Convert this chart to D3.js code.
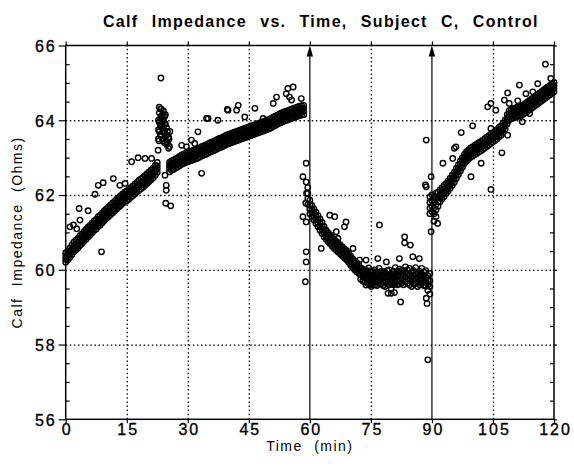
<!DOCTYPE html>
<html>
<head>
<meta charset="utf-8">
<script src="https://cdn.jsdelivr.net/npm/d3@7"></script>
<style>
  body { margin: 0; background: #fff; }
  svg { display: block; font-family: "Liberation Sans", Arial, sans-serif; }
</style>
</head>
<body>
<svg id="chart"></svg>
<script>
const WIDTH = 574
const HEIGHT = 468

const TITLE = "Calf Impedance vs. Time, Subject C, Control"
const X_LABEL = "Time (min)"
const Y_LABEL = "Calf Impedance (Ohms)"

const xTicks = [0, 15, 30, 45, 60, 75, 90, 105, 120]
const yTicks = [56, 58, 60, 62, 64, 66]
const arrowTimes = [60, 90]

// each row: [time (min), readings at that time...]
const rest1 = [
  [0, 60.2, 60.28, 60.36, 60.45], [0.5, 60.26, 60.34, 60.42, 60.5], [1, 60.33, 60.42, 60.5, 60.58],
  [1.5, 60.4, 60.49, 60.57, 60.66], [2, 60.48, 60.56, 60.65, 60.74], [2.5, 60.53, 60.62, 60.7, 60.79],
  [3, 60.58, 60.67, 60.75, 60.84], [3.5, 60.65, 60.74, 60.82, 60.91], [4, 60.7, 60.79, 60.87, 60.96],
  [4.5, 60.76, 60.85, 60.93, 61.02], [5, 60.82, 60.91, 60.99, 61.08], [5.5, 60.88, 60.97, 61.05, 61.14],
  [6, 60.93, 61.02, 61.1, 61.19], [6.5, 60.99, 61.08, 61.16, 61.25], [7, 61.05, 61.14, 61.22, 61.31],
  [7.5, 61.09, 61.18, 61.26, 61.35], [8, 61.16, 61.25, 61.33, 61.42], [8.5, 61.2, 61.29, 61.37, 61.46],
  [9, 61.26, 61.35, 61.43, 61.52], [9.5, 61.32, 61.41, 61.49, 61.58], [10, 61.37, 61.46, 61.54, 61.63],
  [10.5, 61.42, 61.51, 61.59, 61.68], [11, 61.47, 61.56, 61.64, 61.73], [11.5, 61.52, 61.61, 61.69, 61.78],
  [12, 61.57, 61.66, 61.74, 61.83], [12.5, 61.62, 61.71, 61.79, 61.88], [13, 61.67, 61.76, 61.84, 61.93],
  [13.5, 61.72, 61.81, 61.89, 61.98], [14, 61.77, 61.86, 61.94, 62.03], [14.5, 61.82, 61.91, 61.99, 62.08],
  [15, 61.85, 61.94, 62.02, 62.11], [15.5, 61.89, 61.98, 62.06, 62.15], [16, 61.94, 62.03, 62.11, 62.2],
  [16.5, 61.98, 62.07, 62.15, 62.24], [17, 62.03, 62.12, 62.2, 62.29], [17.5, 62.08, 62.17, 62.25, 62.34],
  [18, 62.13, 62.22, 62.3, 62.39], [18.5, 62.17, 62.26, 62.34, 62.43], [19, 62.21, 62.3, 62.38, 62.47],
  [19.5, 62.26, 62.35, 62.43, 62.52], [20, 62.31, 62.4, 62.48, 62.57], [20.5, 62.36, 62.45, 62.53, 62.62],
  [21, 62.41, 62.5, 62.58, 62.67], [21.5, 62.46, 62.55, 62.63, 62.72], [22, 62.53, 62.62, 62.7, 62.79],
  [22.5, 62.61, 62.7, 62.78, 62.87]
]

const spike = [
  [22.8, 63.5, 63.75, 64.0], [23, 63.95, 64.2, 64.35, 63.7], [23.3, 64.05, 64.3, 63.85, 63.6],
  [23.5, 63.9, 64.1, 64.3, 63.6], [23.8, 64.15, 63.95, 63.7, 63.5], [24, 64.0, 64.25, 63.8, 63.45],
  [24.3, 64.1, 63.9, 63.65, 63.4], [24.5, 63.9, 64.15, 63.55], [24.8, 63.8, 63.6, 63.35],
  [25, 63.7, 63.4], [25.3, 63.55, 63.25], [25.5, 63.3]
]

const rest2 = [
  [25.5, 62.62, 62.71, 62.79, 62.87], [26, 62.66, 62.75, 62.83, 62.91], [26.5, 62.68, 62.77, 62.85, 62.93],
  [27, 62.72, 62.81, 62.89, 62.97], [27.5, 62.75, 62.84, 62.92, 63.0], [28, 62.78, 62.87, 62.95, 63.03],
  [28.5, 62.82, 62.91, 62.99, 63.07], [29, 62.84, 62.93, 63.01, 63.09], [29.5, 62.87, 62.96, 63.04, 63.12],
  [30, 62.89, 62.98, 63.06, 63.14], [30.5, 62.91, 63.0, 63.08, 63.16], [31, 62.93, 63.02, 63.1, 63.18],
  [31.5, 62.95, 63.04, 63.12, 63.2], [32, 62.97, 63.06, 63.14, 63.22], [32.5, 62.99, 63.08, 63.16, 63.24],
  [33, 63.02, 63.11, 63.19, 63.27], [33.5, 63.05, 63.14, 63.22, 63.3], [34, 63.07, 63.16, 63.24, 63.32],
  [34.5, 63.09, 63.18, 63.26, 63.34], [35, 63.12, 63.21, 63.29, 63.37], [35.5, 63.15, 63.24, 63.32, 63.4],
  [36, 63.17, 63.26, 63.34, 63.42], [36.5, 63.19, 63.28, 63.36, 63.44], [37, 63.22, 63.31, 63.39, 63.47],
  [37.5, 63.25, 63.34, 63.42, 63.5], [38, 63.27, 63.36, 63.44, 63.52], [38.5, 63.29, 63.38, 63.46, 63.54],
  [39, 63.32, 63.41, 63.49, 63.57], [39.5, 63.35, 63.44, 63.52, 63.6], [40, 63.37, 63.46, 63.54, 63.62],
  [40.5, 63.39, 63.48, 63.56, 63.64], [41, 63.41, 63.5, 63.58, 63.66], [41.5, 63.43, 63.52, 63.6, 63.68],
  [42, 63.45, 63.54, 63.62, 63.7], [42.5, 63.47, 63.56, 63.64, 63.72], [43, 63.49, 63.58, 63.66, 63.74],
  [43.5, 63.51, 63.6, 63.68, 63.76], [44, 63.53, 63.62, 63.7, 63.78], [44.5, 63.55, 63.64, 63.72, 63.8],
  [45, 63.57, 63.66, 63.74, 63.82], [45.5, 63.59, 63.68, 63.76, 63.84], [46, 63.61, 63.7, 63.78, 63.86],
  [46.5, 63.63, 63.72, 63.8, 63.88], [47, 63.65, 63.74, 63.82, 63.9], [47.5, 63.67, 63.76, 63.84, 63.92],
  [48, 63.69, 63.78, 63.86, 63.94], [48.5, 63.71, 63.8, 63.88, 63.96], [49, 63.73, 63.82, 63.9, 63.98],
  [49.5, 63.75, 63.84, 63.92, 64.0], [50, 63.77, 63.86, 63.94, 64.02], [50.5, 63.8, 63.89, 63.97, 64.05],
  [51, 63.83, 63.92, 64.0, 64.08], [51.5, 63.86, 63.95, 64.03, 64.11], [52, 63.89, 63.98, 64.06, 64.14],
  [52.5, 63.92, 64.01, 64.09, 64.17], [53, 63.94, 64.03, 64.11, 64.19], [53.5, 63.97, 64.06, 64.14, 64.22],
  [54, 63.99, 64.08, 64.16, 64.24], [54.5, 64.01, 64.1, 64.18, 64.26], [55, 64.03, 64.12, 64.2, 64.28],
  [55.5, 64.05, 64.14, 64.22, 64.3], [56, 64.07, 64.16, 64.24, 64.32], [56.5, 64.09, 64.18, 64.26, 64.34],
  [57, 64.11, 64.2, 64.28, 64.36], [57.5, 64.13, 64.22, 64.3, 64.38], [58, 64.14, 64.23, 64.31, 64.39],
  [58.5, 64.15, 64.24, 64.32, 64.4]
]

const cuff = [
  [59.5, 61.75, 61.9, 62.05, 62.2], [60, 61.5, 61.62, 61.74, 61.86], [60.5, 61.42, 61.52, 61.62, 61.72],
  [61, 61.33, 61.43, 61.53, 61.63], [61.5, 61.24, 61.34, 61.44, 61.54], [62, 61.15, 61.25, 61.35, 61.45],
  [62.5, 61.06, 61.16, 61.26, 61.36], [63, 60.97, 61.07, 61.17, 61.27], [63.5, 60.88, 60.98, 61.08, 61.16],
  [64, 60.82, 60.9, 60.98, 61.06], [64.5, 60.75, 60.83, 60.91, 60.99], [65, 60.69, 60.77, 60.85, 60.93],
  [65.5, 60.63, 60.71, 60.79, 60.87], [66, 60.57, 60.65, 60.73, 60.81], [66.5, 60.52, 60.6, 60.68, 60.76],
  [67, 60.47, 60.55, 60.63, 60.71], [67.5, 60.42, 60.5, 60.58, 60.66], [68, 60.37, 60.45, 60.53, 60.61],
  [68.5, 60.32, 60.4, 60.48, 60.56], [69, 60.27, 60.35, 60.43, 60.51], [69.5, 60.2, 60.28, 60.36, 60.44],
  [70, 60.13, 60.21, 60.29, 60.37], [70.5, 60.06, 60.14, 60.22, 60.3], [71, 60.0, 60.08, 60.16, 60.24],
  [71.5, 59.95, 60.03, 60.11, 60.19], [72, 59.9, 59.98, 60.06, 60.14], [72.5, 59.75, 59.87, 59.96, 60.05],
  [73, 59.7, 59.82, 59.92, 60.02], [73.5, 59.68, 59.8, 59.9, 60.0], [74, 59.65, 59.76, 59.88, 59.98],
  [74.5, 59.62, 59.74, 59.86, 60.05], [75, 59.6, 59.72, 59.84, 59.98], [75.5, 59.62, 59.74, 59.86, 59.96],
  [76, 59.6, 59.72, 59.84, 60.0], [76.5, 59.58, 59.7, 59.82, 59.94], [77, 59.64, 59.76, 59.88, 60.04],
  [77.5, 59.62, 59.74, 59.86, 59.96], [78, 59.58, 59.7, 59.82, 59.95], [78.5, 59.55, 59.68, 59.8, 59.92],
  [79, 59.62, 59.74, 59.86, 59.98], [79.5, 59.6, 59.72, 59.84, 60.0], [80, 59.5, 59.64, 59.76, 59.88],
  [80.5, 59.6, 59.72, 59.84, 59.96], [81, 59.64, 59.76, 59.88, 60.06], [81.5, 59.6, 59.72, 59.84, 59.96],
  [82, 59.62, 59.74, 59.86, 60.02], [82.5, 59.64, 59.76, 59.88, 59.98], [83, 59.6, 59.72, 59.86, 59.98],
  [83.5, 59.68, 59.8, 59.92, 60.08], [84, 59.64, 59.76, 59.88, 60.0], [84.5, 59.6, 59.72, 59.84, 60.04],
  [85, 59.55, 59.68, 59.8, 59.92], [85.5, 59.62, 59.74, 59.86, 59.98], [86, 59.64, 59.76, 59.88, 60.06],
  [86.5, 59.55, 59.66, 59.78, 59.9], [87, 59.6, 59.72, 59.84, 59.96], [87.5, 59.64, 59.76, 59.88, 60.04],
  [88, 59.58, 59.7, 59.82, 59.94], [88.5, 59.56, 59.68, 59.8, 59.98], [89, 59.45, 59.6, 59.72, 59.84],
  [89.5, 59.35, 59.55, 59.7, 59.9]
]

const recovery = [
  [89.5, 61.5, 61.65, 61.8, 61.95], [90, 61.55, 61.7, 61.85, 62.0], [90.5, 61.5, 61.65, 61.8, 61.95],
  [91, 61.6, 61.75, 61.9, 62.05], [91.5, 61.7, 61.82, 61.94, 62.08], [92, 61.82, 61.92, 62.02, 62.14],
  [92.5, 61.9, 62.0, 62.1, 62.2], [93, 61.96, 62.06, 62.16, 62.26], [93.5, 62.04, 62.13, 62.22, 62.31],
  [94, 62.11, 62.2, 62.29, 62.38], [94.5, 62.18, 62.27, 62.36, 62.45], [95, 62.26, 62.35, 62.44, 62.53],
  [95.5, 62.34, 62.43, 62.52, 62.61], [96, 62.44, 62.53, 62.62, 62.71], [96.5, 62.54, 62.63, 62.72, 62.81],
  [97, 62.64, 62.73, 62.82, 62.91], [97.5, 62.74, 62.83, 62.92, 63.0], [98, 62.84, 62.93, 63.01, 63.09],
  [98.5, 62.91, 63.0, 63.08, 63.16], [99, 62.96, 63.05, 63.13, 63.21], [99.5, 63.01, 63.1, 63.18, 63.26],
  [100, 63.04, 63.13, 63.21, 63.29], [100.5, 63.08, 63.17, 63.25, 63.33], [101, 63.11, 63.2, 63.28, 63.36],
  [101.5, 63.15, 63.24, 63.32, 63.4], [102, 63.18, 63.27, 63.35, 63.43], [102.5, 63.22, 63.31, 63.39, 63.47],
  [103, 63.26, 63.35, 63.43, 63.51], [103.5, 63.3, 63.39, 63.47, 63.55], [104, 63.34, 63.43, 63.51, 63.59],
  [104.5, 63.38, 63.47, 63.55, 63.63], [105, 63.42, 63.51, 63.59, 63.67], [105.5, 63.46, 63.55, 63.63, 63.71],
  [106, 63.5, 63.59, 63.67, 63.75], [106.5, 63.56, 63.65, 63.73, 63.81], [107, 63.6, 63.69, 63.77, 63.85],
  [107.5, 63.68, 63.77, 63.85, 63.93], [108, 63.76, 63.85, 63.93, 64.01], [108.5, 63.9, 63.99, 64.07, 64.15],
  [109, 64.01, 64.1, 64.18, 64.26], [109.5, 64.04, 64.13, 64.21, 64.29], [110, 64.06, 64.15, 64.23, 64.31],
  [110.5, 64.08, 64.17, 64.25, 64.33], [111, 64.1, 64.19, 64.27, 64.35], [111.5, 64.12, 64.21, 64.29, 64.37],
  [112, 64.14, 64.23, 64.31, 64.39], [112.5, 64.16, 64.25, 64.33, 64.41], [113, 64.2, 64.29, 64.37, 64.45],
  [113.5, 64.24, 64.33, 64.41, 64.49], [114, 64.28, 64.37, 64.45, 64.53], [114.5, 64.32, 64.41, 64.49, 64.57],
  [115, 64.36, 64.45, 64.53, 64.61], [115.5, 64.4, 64.49, 64.57, 64.65], [116, 64.44, 64.53, 64.61, 64.69],
  [116.5, 64.48, 64.57, 64.65, 64.73], [117, 64.52, 64.61, 64.69, 64.77], [117.5, 64.56, 64.65, 64.73, 64.81],
  [118, 64.6, 64.69, 64.77, 64.85], [118.5, 64.64, 64.73, 64.81, 64.89], [119, 64.68, 64.77, 64.85, 64.93],
  [119.5, 64.72, 64.81, 64.89, 64.97], [120, 64.76, 64.85, 64.93, 65.01]
]

// stray readings away from the main trace, [time, impedance]
const strays = [
  [1.05, 61.15], [1.9, 61.2], [2.7, 61.1], [3.5, 61.33], [3.3, 61.64], [5.5, 61.58],
  [7.2, 62.02], [8.0, 62.26], [9.2, 62.33], [11.7, 62.44], [13.3, 62.26], [14.6, 62.31],
  [16.2, 62.89], [17.8, 63.0], [19.5, 62.98], [21.1, 62.98], [8.8, 60.48],
  [23.4, 65.13], [22.7, 63.2], [22.9, 63.45], [24.4, 62.53], [24.7, 62.26], [24.7, 62.13],
  [24.6, 61.78], [25.8, 61.71], [25.6, 63.7], [25.4, 63.5],
  [28.5, 63.33], [29.7, 63.29], [30.9, 63.47], [31.7, 63.38], [32.5, 63.69], [33.4, 62.58],
  [34.6, 64.05], [35.0, 64.05], [37.4, 64.0], [39.7, 64.29], [39.9, 64.27], [42.0, 64.27],
  [42.4, 64.4], [44.0, 64.09], [46.5, 64.32], [48.5, 64.05], [51.0, 64.45], [51.8, 64.62],
  [54.2, 64.71], [54.6, 64.85], [55.0, 64.62], [55.9, 64.89], [55.5, 64.54], [57.9, 64.58],
  [59.1, 62.85], [58.3, 62.49], [59.1, 62.35], [59.2, 62.05], [59.0, 61.78], [58.3, 61.42],
  [59.1, 61.28], [59.1, 60.48], [59.1, 60.21], [58.9, 59.68],
  [62.8, 60.57], [64.9, 61.46], [66.1, 61.42], [68.9, 61.28], [68.5, 61.15], [66.5, 61.02],
  [66.9, 60.84], [70.6, 60.57], [72.2, 60.26], [73.8, 60.26], [73.8, 59.59], [75.1, 59.55],
  [76.7, 60.3], [77.1, 61.2], [78.8, 60.21], [79.2, 59.37], [80.0, 59.37], [80.8, 59.39],
  [82.0, 60.3], [82.3, 59.14], [83.3, 60.88], [83.3, 60.72], [84.7, 60.66], [85.3, 60.35],
  [86.9, 60.3], [88.6, 59.24], [88.8, 59.1], [89.0, 57.59],
  [88.6, 63.47], [88.4, 62.27], [88.6, 62.22], [89.8, 62.49], [91.0, 61.42], [91.4, 61.24],
  [89.8, 61.02], [90.5, 61.3], [92.7, 62.85], [95.1, 62.98], [95.5, 63.25], [95.9, 63.29],
  [97.2, 63.67], [100.0, 63.85], [99.6, 62.49], [102.1, 62.85], [103.7, 64.36], [104.5, 64.45],
  [105.7, 64.27], [104.5, 63.78], [107.2, 63.13], [104.5, 62.15], [108.6, 64.73], [107.8, 64.54],
  [109.0, 64.45], [108.6, 63.6], [111.1, 64.52], [111.5, 64.94], [112.2, 63.96], [114.0, 64.18],
  [113.1, 64.71], [114.8, 64.76], [116.0, 64.98], [117.9, 65.5], [119.2, 65.12]
]

const margin = { top: 45.5, right: 20, bottom: 48.7, left: 65.7 }

const svg = d3.select("#chart")
  .attr("width", WIDTH)
  .attr("height", HEIGHT)

const x = d3.scaleLinear()
  .domain([0, 120])
  .range([margin.left, WIDTH - margin.right])

const y = d3.scaleLinear()
  .domain([56, 66])
  .range([HEIGHT - margin.bottom, margin.top])

const x0 = x.range()[0], x1 = x.range()[1]
const y0 = y.range()[0], y1 = y.range()[1]

const minorY = d3.range(56.5, 66, 0.5).filter(v => v % 2 !== 0)

// dotted grid
svg.append("g")
  .attr("class", "grid")
  .attr("transform", `translate(${x0},0)`)
  .call(d3.axisLeft(y).tickValues(yTicks.slice(1, -1)).tickSize(-(x1 - x0)).tickFormat(""))
svg.append("g")
  .attr("class", "grid")
  .attr("transform", `translate(0,${y0})`)
  .call(d3.axisBottom(x).tickValues(xTicks.slice(1, -1).filter(t => !arrowTimes.includes(t))).tickSize(-(y0 - y1)).tickFormat(""))
svg.selectAll(".grid .domain").remove()
svg.selectAll(".grid line")
  .attr("stroke", "#000")
  .attr("stroke-width", 1.3)
  .attr("stroke-dasharray", "1.5,2.6")

// points
const points = [rest1, spike, rest2, cuff, recovery]
  .flatMap(rows => rows.flatMap(([t, ...vs]) => vs.map(v => [t, v])))
  .concat(strays)

svg.append("g")
  .selectAll("circle")
  .data(points)
  .enter()
  .append("circle")
  .attr("cx", d => x(d[0]))
  .attr("cy", d => y(d[1]))
  .attr("r", 2.7)
  .attr("fill", "none")
  .attr("stroke", "#000")
  .attr("stroke-width", 1.4)

// arrows marking cuff on / off
const arrows = svg.append("g")
arrows.selectAll("line")
  .data(arrowTimes)
  .enter()
  .append("line")
  .attr("x1", d => x(d)).attr("x2", d => x(d))
  .attr("y1", y0).attr("y2", y1 + 8)
  .attr("stroke", "#000")
  .attr("stroke-width", 1.2)
arrows.selectAll("path")
  .data(arrowTimes)
  .enter()
  .append("path")
  .attr("d", d => `M${x(d)},${y1} L${x(d) - 3.2},${y1 + 11} L${x(d) + 3.2},${y1 + 11} Z`)
  .attr("fill", "#000")

// frame
svg.append("rect")
  .attr("x", x0).attr("y", y1)
  .attr("width", x1 - x0).attr("height", y0 - y1)
  .attr("fill", "none")
  .attr("stroke", "#000")
  .attr("stroke-width", 1.5)

// axes
const styleAxis = g => {
  g.select(".domain").remove()
  g.selectAll("line").attr("stroke", "#000").attr("stroke-width", 1.2)
  g.selectAll("text")
    .attr("fill", "#000")
    .attr("stroke", "#000")
    .attr("stroke-width", 0.35)
    .style("font-size", "16px")
    .style("letter-spacing", "2px")
}

svg.append("g")
  .attr("transform", `translate(${x0},0)`)
  .call(d3.axisLeft(y).tickValues(yTicks).tickSize(7).tickPadding(2).tickFormat(d3.format("d")))
  .call(styleAxis)
  .selectAll("text").attr("dy", "0.36em")

svg.append("g")
  .attr("transform", `translate(${x0},0)`)
  .call(d3.axisLeft(y).tickValues(minorY).tickSize(-4).tickFormat(""))
  .call(styleAxis)
svg.append("g")
  .attr("transform", `translate(${x1},0)`)
  .call(d3.axisRight(y).tickValues(minorY).tickSize(-4).tickFormat(""))
  .call(styleAxis)
svg.append("g")
  .attr("transform", `translate(${x1},0)`)
  .call(d3.axisRight(y).tickValues(yTicks).tickSize(3).tickFormat(""))
  .call(styleAxis)

svg.append("g")
  .attr("transform", `translate(0,${y0})`)
  .call(d3.axisBottom(x).tickValues(xTicks).tickSize(4).tickPadding(0).tickFormat(d3.format("d")))
  .call(styleAxis)
  .selectAll("text").attr("dx", "1px")
svg.append("g")
  .attr("transform", `translate(0,${y1})`)
  .call(d3.axisTop(x).tickValues(xTicks).tickSize(4).tickFormat(""))
  .call(styleAxis)

// labels
svg.append("text")
  .attr("x", 103)
  .attr("y", 26.5)
  .style("font-size", "16px")
  .style("font-weight", "bold")
  .style("letter-spacing", "1.3px")
  .style("word-spacing", "7.5px")
  .text(TITLE)

svg.append("text")
  .attr("x", (x0 + x1) / 2)
  .attr("y", 451)
  .attr("text-anchor", "middle")
  .style("font-size", "14px")
  .style("letter-spacing", "1.5px")
  .style("word-spacing", "6px")
  .text(X_LABEL)

svg.append("text")
  .attr("transform", `translate(22,${(y0 + y1) / 2}) rotate(-90)`)
  .attr("text-anchor", "middle")
  .style("font-size", "14px")
  .style("letter-spacing", "1.5px")
  .style("word-spacing", "6px")
  .text(Y_LABEL)
</script>
</body>
</html>
